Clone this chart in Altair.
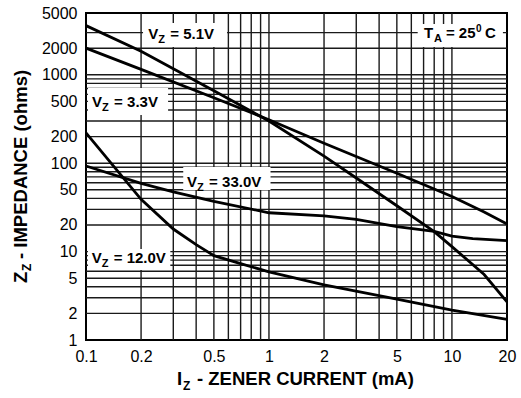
import altair as alt
import pandas as pd

# ---- curve data ----
iz_51 = [0.1, 0.2, 0.5, 1, 2, 3, 5, 8, 10, 15, 20]
zz_51 = [3600, 1850, 660, 300, 120, 68, 33, 16.8, 11.4, 5.5, 2.7]

iz_33 = [0.1, 0.2, 0.5, 1, 2, 5, 10, 15, 20]
zz_33 = [2000, 1150, 550, 310, 168, 77, 42, 28, 20.5]

iz_330 = [0.1, 0.2, 0.3, 0.5, 1, 2, 3, 5, 8, 10, 13, 20]
zz_330 = [93, 59, 47.5, 37, 27.5, 25.3, 23.2, 19.2, 16.9, 15, 14, 13.3]

iz_120 = [0.1, 0.2, 0.3, 0.4, 0.5, 0.7, 1, 2, 5, 10, 20]
zz_120 = [220, 39, 18, 12, 9.0, 7.3, 5.9, 4.2, 2.9, 2.18, 1.71]

# ---- axis ticks and grid ----
x_ticks = [0.1, 0.2, 0.5, 1, 2, 5, 10, 20]
y_ticks = [1, 2, 5, 10, 20, 50, 100, 200, 500, 1000, 2000, 5000]
grid_x = [0.2, 0.3, 0.4, 0.5, 0.6, 0.7, 0.8, 0.9, 1, 2, 3, 4, 5, 6, 7, 8, 9, 10]
grid_y = [2, 3, 4, 5, 6, 7, 8, 9, 10, 20, 30, 40, 50, 60, 70, 80, 90, 100,
          200, 300, 400, 500, 600, 700, 800, 900, 1000, 2000, 3000]

# ---- annotation labels ----
lab_main = ["V", "V", "V", "V", "T"]
lab_sub = ["Z", "Z", "Z", "Z", "A"]
lab_rest = ["= 5.1V", "= 3.3V", "= 33.0V", "= 12.0V", "= 25"]
lab_x = [0.219, 0.108, 0.357, 0.1075, 7.03]
lab_y = [2508, 436, 54, 7.4, 2575]
box_x1 = [0.205, 0.1025, 0.340, 0.1025, 6.5]
box_x2 = [0.59, 0.281, 1.02, 0.289, 19.0]
box_y1 = [2063, 351, 49.7, 6.2, 2063]
box_y2 = [3855, 709, 90.6, 10.7, 3756]

curves = pd.concat([
    pd.DataFrame({"iz": iz_51, "zz": zz_51, "series": "5.1V"}),
    pd.DataFrame({"iz": iz_33, "zz": zz_33, "series": "3.3V"}),
    pd.DataFrame({"iz": iz_330, "zz": zz_330, "series": "33.0V"}),
    pd.DataFrame({"iz": iz_120, "zz": zz_120, "series": "12.0V"}),
], ignore_index=True)

labels = pd.DataFrame({"x": lab_x, "y": lab_y, "main": lab_main, "sub": lab_sub,
                       "rest": lab_rest, "bx1": box_x1, "bx2": box_x2,
                       "by1": box_y1, "by2": box_y2})

FONT = "Liberation Sans"
xs = alt.Scale(type="log", domain=[0.1, 20])
ys = alt.Scale(type="log", domain=[1, 5000])
AX = alt.Axis(values=x_ticks, format="~g", grid=False, ticks=False, domain=False,
              labelFont=FONT, labelFontSize=16, labelColor="black", labelPadding=8,
              title=None, labelFlush=False)
AY = alt.Axis(values=y_ticks, format="~g", grid=False, ticks=False, domain=False,
              labelFont=FONT, labelFontSize=16, labelColor="black", labelPadding=9,
              title=None, labelFlush=False)


def X(f):
    return alt.X(f, type="quantitative", scale=xs, axis=AX)


def Y(f):
    return alt.Y(f, type="quantitative", scale=ys, axis=AY)


gx = alt.Chart(pd.DataFrame({"gx": grid_x})).mark_rule(
    color="#1a1a1a", strokeWidth=1.4).encode(x=X("gx"))
gy = alt.Chart(pd.DataFrame({"gy": grid_y})).mark_rule(
    color="#1a1a1a", strokeWidth=1.4).encode(y=Y("gy"))

lines = alt.Chart(curves).mark_line(color="black", strokeWidth=2.8).encode(
    x=X("iz"), y=Y("zz"), detail="series:N")

base = alt.Chart(labels)
boxes = base.mark_rect(fill="white").encode(x=X("bx1"), x2="bx2:Q", y=Y("by1"), y2="by2:Q")
t_main = base.mark_text(align="left", baseline="alphabetic", font=FONT, fontWeight="bold",
                        fontSize=15, color="black").encode(x=X("x"), y=Y("y"), text="main:N")
t_sub = base.mark_text(align="left", baseline="alphabetic", font=FONT, fontWeight="bold",
                       fontSize=11, color="black", dx=10, dy=4).encode(
    x=X("x"), y=Y("y"), text="sub:N")
t_rest = base.mark_text(align="left", baseline="alphabetic", font=FONT, fontWeight="bold",
                        fontSize=15, color="black", dx=22).encode(
    x=X("x"), y=Y("y"), text="rest:N")

ta = alt.Chart(pd.DataFrame({"x": [lab_x[4]], "y": [lab_y[4]]}))
t_sup = ta.mark_text(align="left", baseline="alphabetic", font=FONT, fontWeight="bold",
                     fontSize=10, color="black", dx=52, dy=-6, text="0").encode(x=X("x"), y=Y("y"))
t_c = ta.mark_text(align="left", baseline="alphabetic", font=FONT, fontWeight="bold",
                   fontSize=15, color="black", dx=61, text="C").encode(x=X("x"), y=Y("y"))

one = alt.Chart(pd.DataFrame({"a": [0]}))


def ttl(txt, x, y, size, angle=0):
    return one.mark_text(text=txt, align="left", baseline="alphabetic", font=FONT,
                         fontWeight="bold", fontSize=size, color="black", angle=angle).encode(
        x=alt.value(x), y=alt.value(y))


xt = ttl("I", 91, 372, 18.5) + ttl("Z", 97, 377, 12) + ttl("- ZENER CURRENT (mA)", 111, 372, 18.5)
yt = (ttl("Z", -59, 270, 18.5, 270) + ttl("Z", -55, 258, 12, 270)
      + ttl("- IMPEDANCE (ohms)", -59, 246, 18.5, 270))

chart = alt.layer(gx, gy, boxes, lines, t_main, t_sub, t_rest, t_sup, t_c, xt, yt).properties(
    width=421, height=327,
    padding={"left": 86, "top": 13, "right": 14, "bottom": 58},
    autosize=alt.AutoSizeParams(type="none"),
).configure_view(stroke="black", strokeWidth=2)

chart.save("out.html", embed_options={"renderer": "svg", "actions": False})
